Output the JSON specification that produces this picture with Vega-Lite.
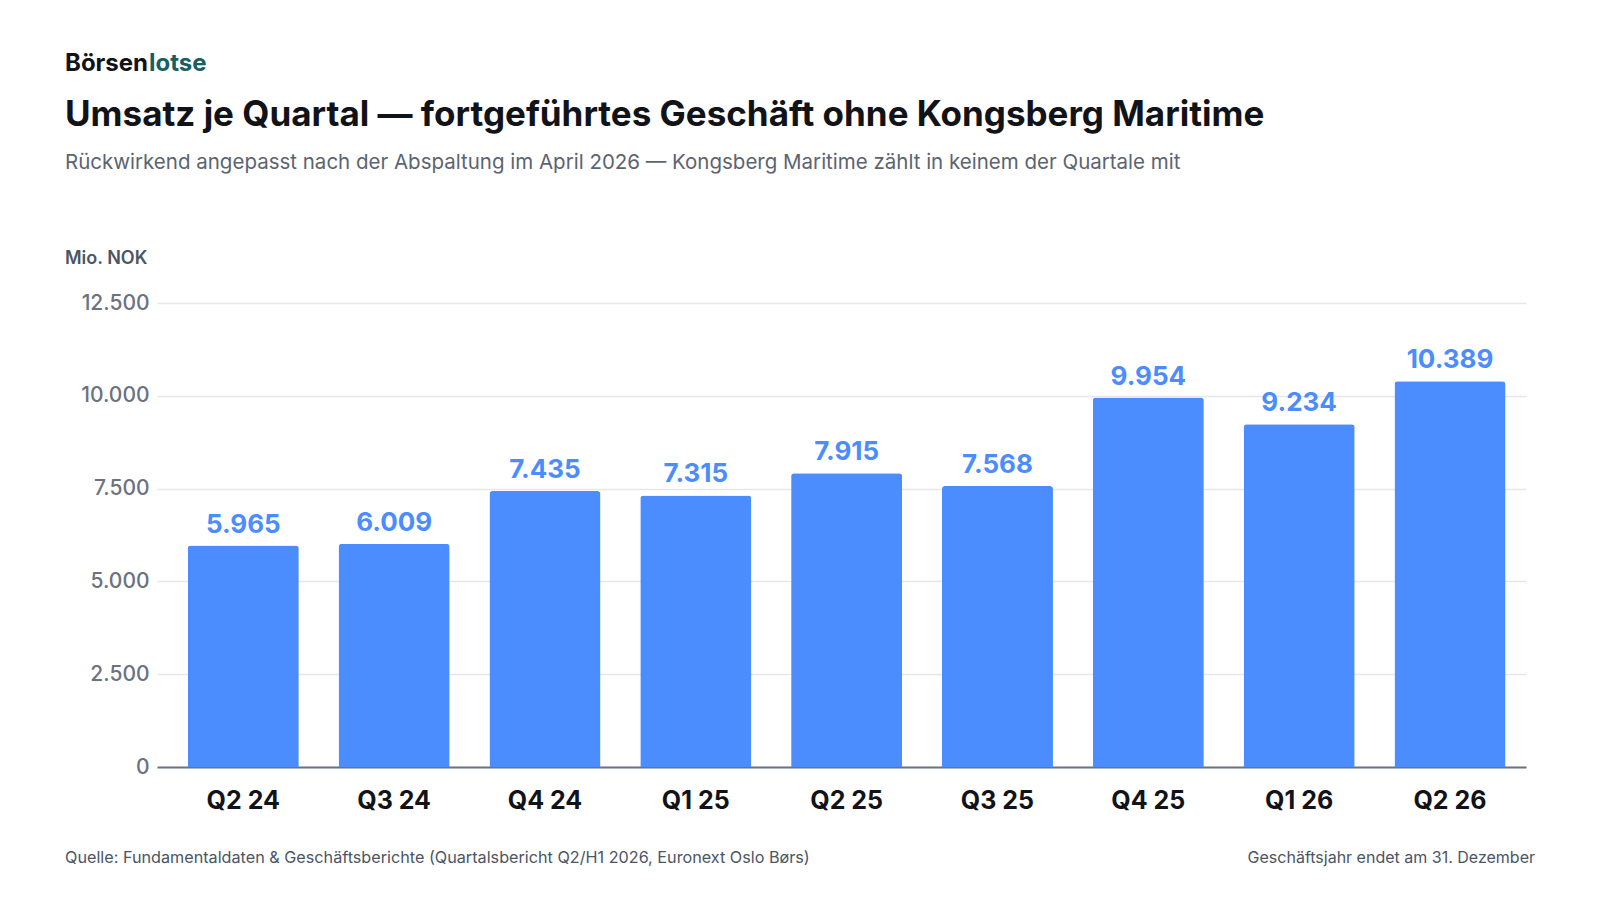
{
  "$schema": "https://vega.github.io/schema/vega-lite/v6.json",
  "width": 1369,
  "height": 464,
  "autosize": {"type": "none"},
  "padding": {"left": 157, "top": 303, "right": 74, "bottom": 133},
  "background": "#ffffff",
  "data": {
    "values": [
      {"quartal": "Q2 24", "umsatz": 5965},
      {"quartal": "Q3 24", "umsatz": 6009},
      {"quartal": "Q4 24", "umsatz": 7435},
      {"quartal": "Q1 25", "umsatz": 7315},
      {"quartal": "Q2 25", "umsatz": 7915},
      {"quartal": "Q3 25", "umsatz": 7568},
      {"quartal": "Q4 25", "umsatz": 9954},
      {"quartal": "Q1 26", "umsatz": 9234},
      {"quartal": "Q2 26", "umsatz": 10389}
    ]
  },
  "encoding": {
    "x": {
      "field": "quartal", "type": "nominal", "sort": null, "title": null,
      "scale": {"paddingInner": 0.264, "paddingOuter": 0.17, "align": 0.6},
      "axis": {
        "labelAngle": 0, "labelFont": "Inter", "labelFontSize": 25, "labelFontWeight": 700,
        "labelColor": "#111318", "labelPadding": 21, "ticks": false,
        "domainColor": "#6b7280", "domainWidth": 2, "grid": false
      }
    },
    "y": {
      "field": "umsatz", "type": "quantitative",
      "scale": {"domain": [0, 12500], "nice": false},
      "axis": {
        "values": [0, 2500, 5000, 7500, 10000, 12500],
        "format": ",.0f",
        "title": null,
        "labelFont": "Inter", "labelFontSize": 21, "labelFontWeight": 500, "labelColor": "#6b7280",
        "labelPadding": 8, "ticks": false, "domain": false,
        "gridColor": "#e5e7eb", "gridWidth": 1.5
      }
    }
  },
  "layer": [
    {
      "mark": {"type": "bar", "color": "#4b8cff", "cornerRadiusTopLeft": 3, "cornerRadiusTopRight": 3}
    },
    {
      "mark": {"type": "text", "baseline": "bottom", "dy": -8, "font": "Inter", "fontSize": 26, "fontWeight": 700, "color": "#4b8cff"},
      "encoding": {"text": {"field": "umsatz", "type": "quantitative", "format": ",.0f"}}
    },
    {
      "data": {"values": [{"t": "Börsen"}]},
      "mark": {"type": "text", "align": "left", "baseline": "alphabetic", "x": -92, "y": -232, "font": "Inter", "fontSize": 24, "fontWeight": 700, "color": "#111318"},
      "encoding": {"text": {"field": "t"}, "x": null, "y": null}
    },
    {
      "data": {"values": [{"t": "lotse"}]},
      "mark": {"type": "text", "align": "left", "baseline": "alphabetic", "x": -8, "y": -232, "font": "Inter", "fontSize": 24, "fontWeight": 700, "color": "#17605f"},
      "encoding": {"text": {"field": "t"}, "x": null, "y": null}
    },
    {
      "data": {"values": [{"t": "Umsatz je Quartal — fortgeführtes Geschäft ohne Kongsberg Maritime"}]},
      "mark": {"type": "text", "align": "left", "baseline": "alphabetic", "x": -92, "y": -177, "font": "Inter", "fontSize": 35, "fontWeight": 700, "color": "#111318"},
      "encoding": {"text": {"field": "t"}, "x": null, "y": null}
    },
    {
      "data": {"values": [{"t": "Rückwirkend angepasst nach der Abspaltung im April 2026 — Kongsberg Maritime zählt in keinem der Quartale mit"}]},
      "mark": {"type": "text", "align": "left", "baseline": "alphabetic", "x": -92, "y": -134, "font": "Inter", "fontSize": 20.5, "color": "#5b6470"},
      "encoding": {"text": {"field": "t"}, "x": null, "y": null}
    },
    {
      "data": {"values": [{"t": "Mio. NOK"}]},
      "mark": {"type": "text", "align": "left", "baseline": "alphabetic", "x": -92, "y": -39, "font": "Inter", "fontSize": 18, "fontWeight": 600, "color": "#4b5563"},
      "encoding": {"text": {"field": "t"}, "x": null, "y": null}
    },
    {
      "data": {"values": [{"t": "Quelle: Fundamentaldaten & Geschäftsberichte (Quartalsbericht Q2/H1 2026, Euronext Oslo Børs)"}]},
      "mark": {"type": "text", "align": "left", "baseline": "alphabetic", "x": -92, "y": 560, "font": "Inter", "fontSize": 16.2, "color": "#4b5563"},
      "encoding": {"text": {"field": "t"}, "x": null, "y": null}
    },
    {
      "data": {"values": [{"t": "Geschäftsjahr endet am 31. Dezember"}]},
      "mark": {"type": "text", "align": "right", "baseline": "alphabetic", "x": 1378, "y": 560, "font": "Inter", "fontSize": 16, "color": "#4b5563"},
      "encoding": {"text": {"field": "t"}, "x": null, "y": null}
    }
  ],
  "config": {
    "view": {"stroke": null},
    "locale": {"number": {"decimal": ",", "thousands": ".", "grouping": [3], "currency": ["", " €"]}}
  }
}
